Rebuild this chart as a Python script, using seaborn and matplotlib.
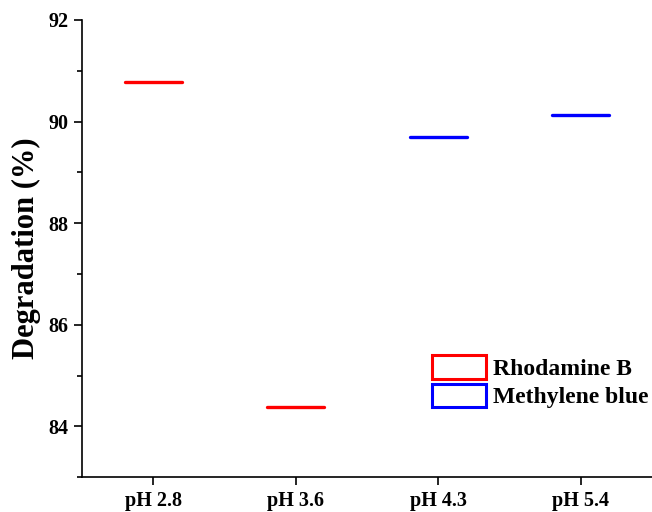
import matplotlib
matplotlib.use("Agg")
import matplotlib.pyplot as plt
from matplotlib.patches import Patch
from matplotlib.ticker import MultipleLocator
import seaborn as sns
import pandas as pd

# Degradation efficiency at each pH
ph_labels = ["pH 2.8", "pH 3.6", "pH 4.3", "pH 5.4"]
degradation = [90.77, 84.38, 89.70, 90.12]
dyes = ["Rhodamine B", "Rhodamine B", "Methylene blue", "Methylene blue"]
dye_colors = {"Rhodamine B": "#ff0000", "Methylene blue": "#0000ff"}

df = pd.DataFrame({"pH": ph_labels, "Degradation": degradation, "Dye": dyes})

sns.set_style("ticks")
plt.rcParams["font.family"] = ["Liberation Serif", "DejaVu Serif"]
plt.rcParams["font.weight"] = "bold"
for key in ["text.color", "axes.labelcolor", "xtick.color", "ytick.color",
            "axes.edgecolor"]:
    plt.rcParams[key] = "black"

fig = plt.figure(figsize=(6.52, 5.12), dpi=100)
ax = fig.add_axes([0.126, 0.068, 0.874, 0.893])

sns.barplot(data=df, x="pH", y="Degradation", hue="Dye", palette=dye_colors,
            dodge=False, width=0.4, saturation=1, legend=False, ax=ax)

# Keep only the top edge of every bar
for patch in ax.patches:
    h = patch.get_height()
    x0 = patch.get_x()
    w = patch.get_width()
    color = patch.get_facecolor()
    patch.set_visible(False)
    ax.hlines(h, x0, x0 + w, colors=[color], linewidth=2.4, capstyle="round")

ax.set_ylim(83, 92)
ax.set_xlim(-0.5, 3.5)
ax.yaxis.set_major_locator(MultipleLocator(2))
ax.yaxis.set_minor_locator(MultipleLocator(1))
ax.set_xlabel("")
ax.set_ylabel("Degradation (%)", fontsize=22, fontweight="bold", labelpad=5)

for side in ["top", "right"]:
    ax.spines[side].set_visible(False)
for side in ["left", "bottom"]:
    ax.spines[side].set_linewidth(1.2)

ax.tick_params(axis="both", which="major", direction="out", length=6, width=1.2,
               labelsize=14.5, pad=4)
ax.tick_params(axis="y", which="minor", direction="out", length=3.5, width=1.2)
for lab in ax.get_xticklabels() + ax.get_yticklabels():
    lab.set_fontweight("bold")

handles = [Patch(facecolor="white", edgecolor=c, linewidth=2.2, label=k)
           for k, c in dye_colors.items()]
leg = ax.legend(handles=handles, loc="upper left", bbox_to_anchor=(0.614, 0.267),
                frameon=False, borderpad=0, borderaxespad=0, handlelength=2.3,
                handleheight=1.15, labelspacing=0.16, handletextpad=0.3,
                prop={"family": ["Liberation Serif"], "weight": "bold", "size": 17})

fig.savefig("out.png", dpi=100)
